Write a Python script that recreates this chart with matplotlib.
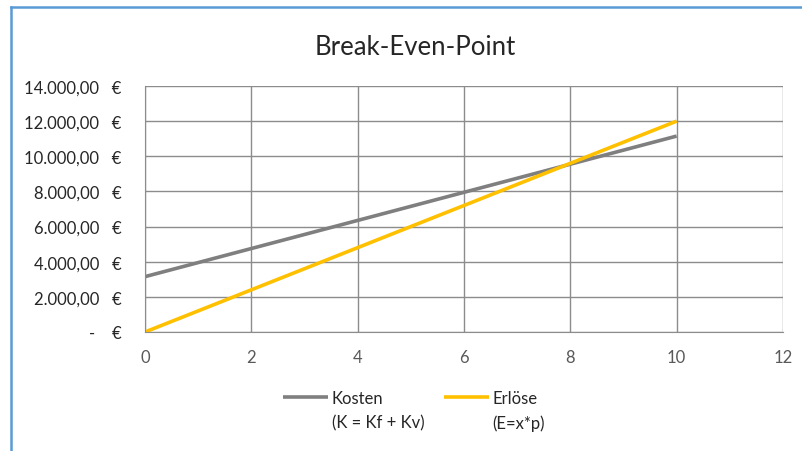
import matplotlib
matplotlib.use("Agg")
import matplotlib.pyplot as plt
from matplotlib.lines import Line2D

plt.rcParams['font.family'] = ['Lato', 'DejaVu Sans']

# data
menge = [0, 1, 2, 3, 4, 5, 6, 7, 8, 9, 10]
kosten = [3150, 3950, 4750, 5550, 6350, 7150, 7950, 8750, 9550, 10350, 11150]
erloese = [0, 1200, 2400, 3600, 4800, 6000, 7200, 8400, 9600, 10800, 12000]
y_ticks = [0, 2000, 4000, 6000, 8000, 10000, 12000, 14000]
y_labels = ["-    €", "2.000,00   €", "4.000,00   €", "6.000,00   €", "8.000,00   €",
            "10.000,00   €", "12.000,00   €", "14.000,00   €"]
x_ticks = [0, 2, 4, 6, 8, 10, 12]
namen = ["Kosten", "Erlöse"]
formeln = ["(K = Kf + Kv)", "(E=x*p)"]

fig = plt.figure(figsize=(8.03, 4.52), dpi=100)
ax = fig.add_axes([0.1806, 0.2633, 0.7944, 0.5442])

ax.plot(menge, kosten, color="#7f7f7f", lw=2.6, solid_capstyle="butt", label=namen[0])
ax.plot(menge, erloese, color="#ffc000", lw=2.6, solid_capstyle="butt", label=namen[1])

ax.set_xlim(0, 12)
ax.set_ylim(0, 14000)
ax.set_xticks(x_ticks)
ax.set_xticklabels([str(v) for v in x_ticks], fontsize=12, color="#595959")
ax.set_yticks(y_ticks)
ax.set_yticklabels(y_labels, fontsize=12, color="#262626")
ax.tick_params(length=0)
ax.tick_params(axis="x", pad=12)
ax.tick_params(axis="y", pad=17)
ax.grid(True, color="#8c8c8c", lw=1)
ax.set_axisbelow(True)
for s in ["top", "right"]:
    ax.spines[s].set_visible(False)
for s in ["left", "bottom"]:
    ax.spines[s].set_color("#8c8c8c")

fig.text(0.517, 0.895, "Break-Even-Point", fontsize=18.5, color="#262626",
         ha="center", va="center")

leg = fig.legend(loc="center", bbox_to_anchor=(0.511, 0.118), ncol=2, frameon=False,
                 fontsize=12, handlelength=2.7, columnspacing=3.6, handletextpad=0.25)

fig.canvas.draw()
for t, f in zip(leg.get_texts(), formeln):
    t.set_color("#262626")
    ax.annotate(f, xy=(0, 0), xycoords=t, xytext=(0, -6), textcoords="offset points",
                va="top", ha="left", fontsize=12, color="#262626", annotation_clip=False)

# blue frame of the chart object
fig.add_artist(Line2D([0.0137, 0.0137], [0, 0.982], color="#5b9bd5", lw=1.8))
fig.add_artist(Line2D([0.0137, 1.0], [0.982, 0.982], color="#5b9bd5", lw=1.8))

fig.savefig("out.png", dpi=100)
